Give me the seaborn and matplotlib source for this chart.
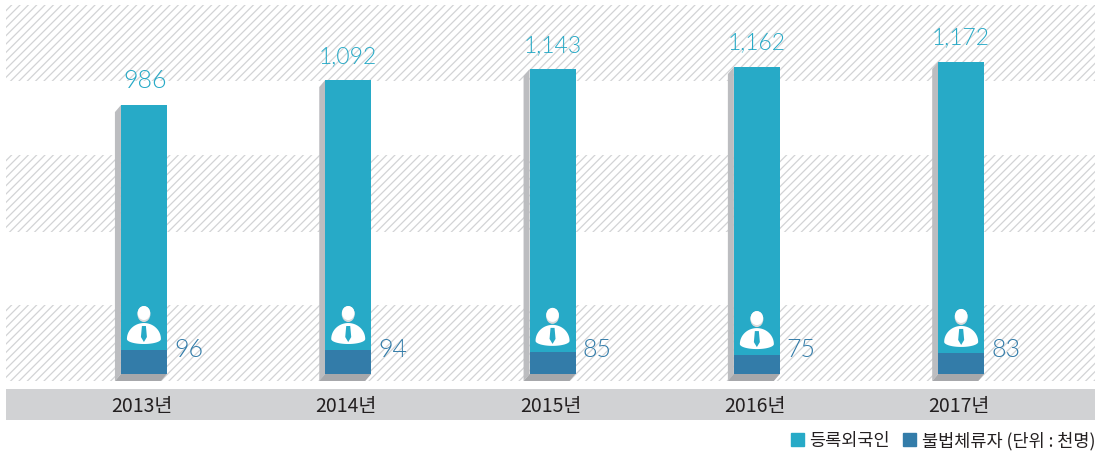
import numpy as np
import pandas as pd
import matplotlib
matplotlib.use("Agg")
import matplotlib.pyplot as plt
import seaborn as sns
from matplotlib.patches import Polygon, Rectangle, Ellipse
from matplotlib.transforms import IdentityTransform, ScaledTranslation

years = ["2013년", "2014년", "2015년", "2016년", "2017년"]
registered_labels = ["986", "1,092", "1,143", "1,162", "1,172"]
overstay_labels = ["96", "94", "85", "75", "83"]
# heights as drawn in the picture (the source bars are not quite proportional)
registered = [1009, 1103, 1144, 1152, 1171]
overstay = [90, 90, 83, 71, 79]
series_names = ["등록외국인", "불법체류자 (단위 : 천명)"]

TEAL, BLUE = "#27aac7", "#337ca9"
W, H = 1098, 452
KR = ["Noto Sans CJK KR", "DejaVu Sans"]

sns.set_theme(style="white")
plt.rcParams["font.family"] = KR
plt.rcParams["hatch.linewidth"] = 0.9
plt.rcParams["hatch.color"] = "#d2d3d5"

fig = plt.figure(figsize=(W / 100, H / 100), dpi=100)
ax = fig.add_axes([6 / W, 1 - 382 / H, (1095 - 6) / W, (382 - 6) / H])
ax.set_facecolor("none")

df = pd.DataFrame({
    "year": years * 2,
    "value": registered + overstay,
    "series": [series_names[0]] * 5 + [series_names[1]] * 5,
})
sns.barplot(data=df, x="year", y="value", hue="series", hue_order=series_names,
            palette=[TEAL, BLUE], dodge=False, width=0.225, saturation=1,
            ax=ax, legend=False, zorder=3, linewidth=0)
ax.set_xlim(-0.675, 4.655)
# 0 sits at y=375 px in axes terms, scale 0.2665 px per unit
ax.set_ylim(-7 / 0.2665, 369 / 0.2665)
for s in ax.spines.values():
    s.set_visible(False)
ax.set_xlabel("")
ax.set_ylabel("")
ax.set_yticks([])
ax.tick_params(axis="x", length=0, pad=10, labelsize=14, labelcolor="#231f20")
shift = ScaledTranslation(-2 / 100, 0, fig.dpi_scale_trans)
for lab in ax.get_xticklabels():
    lab.set_transform(lab.get_transform() + shift)

# hatched bands
def y_data(px):
    return (374 - px) / 0.2665
for top, bottom in [(5, 81), (155, 232), (305, 381)]:
    ax.axhspan(y_data(bottom), y_data(top), facecolor="none", edgecolor="#d2d3d5",
               hatch="////", linewidth=0, zorder=0)

# grey label strip
fig.add_artist(Rectangle((6 / W, 1 - 421 / H), (1095 - 6) / W, 31 / H,
                         transform=fig.transFigure, facecolor="#d1d2d4",
                         edgecolor="none", zorder=-1))

fig.canvas.draw()
to_px = ax.transData.transform
n = len(years)
teal_bars = ax.patches[:n]
blue_bars = ax.patches[n:2 * n]
dt = IdentityTransform()

for i, (tb, bb) in enumerate(zip(teal_bars, blue_bars)):
    x0, y0 = to_px((tb.get_x(), 0))
    x1, y1 = to_px((tb.get_x() + tb.get_width(), tb.get_height()))
    _, yb = to_px((0, bb.get_height()))
    d = 6
    dy = 7
    ax.add_patch(Polygon([(x0, y1), (x0 - d, y1 - dy), (x0 - d, y0 - dy), (x0, y0)],
                         closed=True, transform=dt, facecolor="#bcbdc0",
                         edgecolor="none", zorder=2))
    ax.add_patch(Polygon([(x0, y0), (x0 - d, y0 - dy), (x1 - d, y0 - dy), (x1, y0)],
                         closed=True, transform=dt, facecolor="#a7a8ab",
                         edgecolor="none", zorder=2))
    cx = (x0 + x1) / 2
    # value labels
    ax.text(cx + (1.5 if i == 0 else 0), y1 + 25, registered_labels[i], transform=dt, color=TEAL,
            fontsize=18 if i == 0 else 16.5, family="Lato", fontweight=300,
            ha="center", va="center", zorder=5)
    ax.text(x1 + 7, H - 350, overstay_labels[i], transform=dt, color=BLUE,
            fontsize=18, family="Lato", fontweight=300, ha="left", va="center", zorder=5)
    # person icon, anchored to the top of the lower bar
    t = np.linspace(0, np.pi, 40)
    sx = cx
    upper = np.c_[sx + 17 * np.cos(t), yb + 11 + 16 * np.sin(t)]
    lower = np.c_[sx - 17 * np.cos(t), yb + 11 - 5 * np.sin(t)]
    ax.add_patch(Polygon(np.r_[upper, lower], closed=True, transform=dt, facecolor="white",
                         edgecolor="none", zorder=5))
    ax.add_patch(Ellipse((sx, yb + 36), 13, 16, transform=dt, facecolor="#d9dadb",
                         edgecolor="none", zorder=6))
    ax.add_patch(Ellipse((sx, yb + 37), 12.5, 14, transform=dt, facecolor="white",
                         edgecolor="none", zorder=6))
    ax.add_patch(Polygon([(sx - 2, yb + 24), (sx + 2, yb + 24), (sx + 3, yb + 13),
                          (sx, yb + 8), (sx - 3, yb + 13)], closed=True, transform=dt,
                         facecolor=TEAL, edgecolor="none", zorder=6))

handles = [Rectangle((0, 0), 1, 1, color=TEAL), Rectangle((0, 0), 1, 1, color=BLUE)]
fig.legend(handles, series_names, loc="center right", bbox_to_anchor=(1095 / W, 1 - 441 / H),
           ncol=2, frameon=False, fontsize=12.6, handlelength=0.74, handleheight=0.74,
           handletextpad=0.29, columnspacing=0.8, labelcolor="#231f20",
           borderpad=0, borderaxespad=0)

fig.savefig("out.png", dpi=100)
